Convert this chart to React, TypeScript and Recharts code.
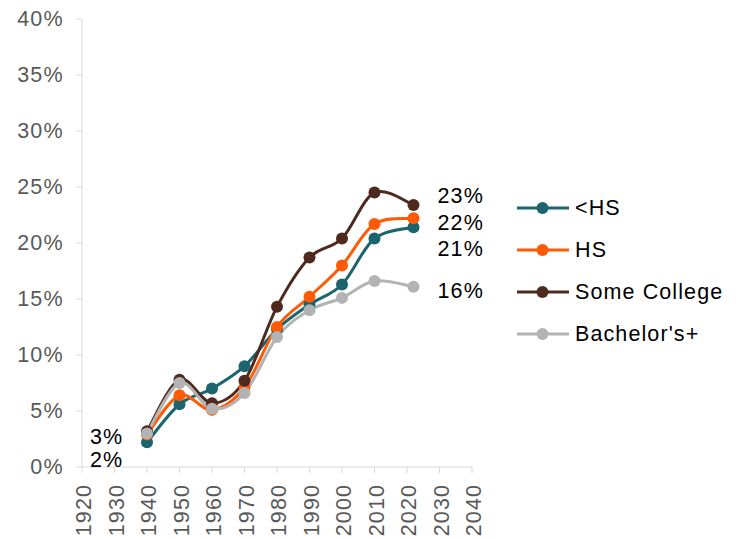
import React from "react";
import { LineChart, Line, XAxis, YAxis, Legend } from "recharts";

const years = [1940, 1950, 1960, 1970, 1980, 1990, 2000, 2010, 2022];
const lessHS = [2.2, 5.6, 7.0, 9.0, 12.3, 14.5, 16.3, 20.4, 21.4];
const hs = [2.9, 6.4, 5.1, 7.1, 12.5, 15.2, 18.0, 21.7, 22.2];
const someCollege = [3.2, 7.8, 5.7, 7.7, 14.3, 18.7, 20.4, 24.5, 23.4];
const bachelors = [3.0, 7.5, 5.2, 6.6, 11.6, 14.0, 15.1, 16.6, 16.1];

const xTicks = [1920, 1930, 1940, 1950, 1960, 1970, 1980, 1990, 2000, 2010, 2020, 2030, 2040];
const yTicks = [0, 5, 10, 15, 20, 25, 30, 35, 40];

const seriesNames = ["<HS", "HS", "Some College", "Bachelor's+"];
const seriesKeys = ["lessHS", "hs", "someCollege", "bachelors"];
const seriesColors = ["#1B6470", "#FF5A05", "#4E2A1E", "#B3B3B3"];

// which end points carry a data label, and label offsets (styling only)
const showFirst = [true, false, true, false];
const showLast = [true, true, true, true];
const firstOffset = [{ dx: -57, dy: 18 }, null, { dx: -57, dy: 6 }, null];
const lastOffset = [{ dx: 24, dy: 22 }, { dx: 24, dy: 5 }, { dx: 24, dy: -9 }, { dx: 24, dy: 4 }];

const data = years.map((yr, i) => ({
  year: yr,
  lessHS: lessHS[i],
  hs: hs[i],
  someCollege: someCollege[i],
  bachelors: bachelors[i],
}));

const FONT = "'Liberation Sans', Arial, sans-serif";
const FS = 21.5;
const LS = 1.1;

// Catmull-Rom style smoothing (like spreadsheet "smoothed line")
const smoothCurve = (context: any) => {
  let pts: number[][] = [];
  return {
    areaStart() {},
    areaEnd() {},
    lineStart() {
      pts = [];
    },
    point(x: number, y: number) {
      pts.push([+x, +y]);
    },
    lineEnd() {
      const n = pts.length;
      if (!n) return;
      context.moveTo(pts[0][0], pts[0][1]);
      for (let i = 0; i < n - 1; i++) {
        const p0 = pts[i - 1] || pts[i];
        const p1 = pts[i];
        const p2 = pts[i + 1];
        const p3 = pts[i + 2] || pts[i + 1];
        const c1x = p1[0] + (p2[0] - p0[0]) / 6;
        const c1y = p1[1] + (p2[1] - p0[1]) / 6;
        const c2x = p2[0] - (p3[0] - p1[0]) / 6;
        const c2y = p2[1] - (p3[1] - p1[1]) / 6;
        context.bezierCurveTo(c1x, c1y, c2x, c2y, p2[0], p2[1]);
      }
    },
  };
};

const YTick = (props: any) => {
  const { y, payload } = props;
  return (
    <text
      x={62.5 + LS}
      y={y}
      textAnchor="end"
      dominantBaseline="central"
      fontFamily={FONT}
      fontSize={FS}
      letterSpacing={LS}
      fill="#595959"
    >
      {payload.value}%
    </text>
  );
};

const XTick = (props: any) => {
  const { x, payload } = props;
  const ty = 484;
  return (
    <text
      x={x + 2}
      y={ty}
      transform={`rotate(-90, ${x + 2}, ${ty})`}
      textAnchor="end"
      dominantBaseline="central"
      fontFamily={FONT}
      fontSize={FS}
      letterSpacing={LS}
      fill="#595959"
    >
      {payload.value}
    </text>
  );
};

const makeLabel = (si: number) => (props: any) => {
  const { x, y, index, value } = props;
  let off: any = null;
  if (index === 0 && showFirst[si]) off = firstOffset[si];
  if (index === years.length - 1 && showLast[si]) off = lastOffset[si];
  if (!off || x == null) return <g key={`l${si}-${index}`} />;
  return (
    <text
      key={`l${si}-${index}`}
      x={x + off.dx}
      y={y + off.dy}
      dominantBaseline="central"
      fontFamily={FONT}
      fontSize={FS}
      letterSpacing={LS}
      fill="#000"
    >
      {Math.round(value)}%
    </text>
  );
};

const LegendContent = () => (
  <div style={{ fontFamily: FONT }}>
    {seriesNames.map((n, i) => (
      <div key={n} style={{ display: "flex", alignItems: "center", height: 42 }}>
        <svg width={59} height={20} style={{ display: "block" }}>
          <line x1={1} y1={10} x2={53} y2={10} stroke={seriesColors[i]} strokeWidth={3} />
          <circle cx={26.5} cy={10} r={6} fill={seriesColors[i]} />
        </svg>
        <span style={{ fontSize: FS, letterSpacing: LS, color: "#000", whiteSpace: "nowrap" }}>{n}</span>
      </div>
    ))}
  </div>
);

export default function App() {
  return (
    <div style={{ position: "absolute", left: 0, top: 0, width: 741, height: 539, background: "#fff" }}>
      <LineChart
        width={741}
        height={539}
        data={data}
        margin={{ top: 19, right: 269, bottom: 0, left: 0 }}
      >
        <XAxis
          dataKey="year"
          type="number"
          domain={[1920, 2040]}
          ticks={xTicks}
          interval={0}
          height={72}
          stroke="#D9D9D9"
          tickLine={{ stroke: "#D9D9D9" }}
          tickSize={6}
          tick={<XTick />}
          allowDataOverflow
        />
        <YAxis
          type="number"
          domain={[0, 40]}
          ticks={yTicks}
          interval={0}
          width={82}
          stroke="#D9D9D9"
          tickLine={{ stroke: "#D9D9D9" }}
          tickSize={6}
          tick={<YTick />}
        />
        <Legend
          layout="horizontal"
          verticalAlign="middle"
          align="center"
          content={<LegendContent />}
          wrapperStyle={{ position: "absolute", left: 516, top: 187, width: 225 }}
        />
        {seriesKeys.map((k, si) => (
          <Line
            key={k}
            dataKey={k}
            name={seriesNames[si]}
            type={smoothCurve as any}
            stroke={seriesColors[si]}
            strokeWidth={3}
            dot={{ r: 6, fill: seriesColors[si], stroke: seriesColors[si], strokeWidth: 0 }}
            activeDot={false}
            isAnimationActive={false}
            label={makeLabel(si)}
          />
        ))}
      </LineChart>
    </div>
  );
}
